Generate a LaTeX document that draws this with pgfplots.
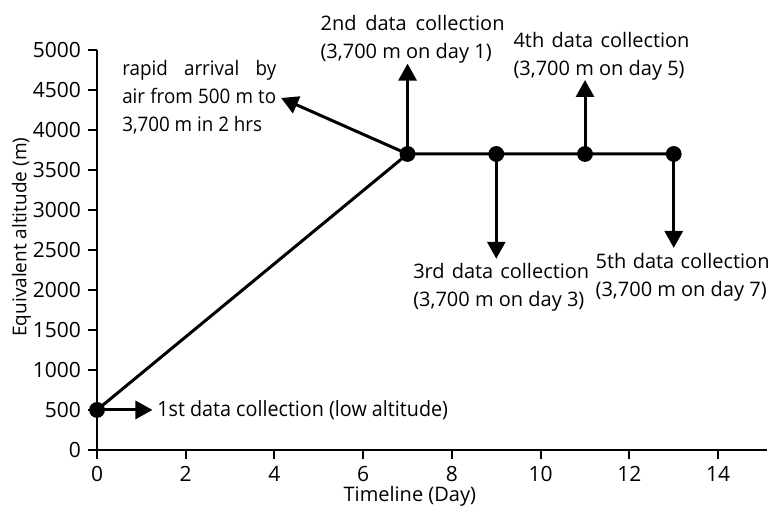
\documentclass[border=0pt]{standalone}
\usepackage{fontspec}
\setmainfont{Open Sans}
\newfontfamily\narrowfont{Open Sans}[FakeStretch=0.94]
\usepackage{pgfplots}
\pgfplotsset{compat=1.18}
\usetikzlibrary{arrows.meta}

\tikzset{
  note/.style={font=\fontsize{10}{14}\selectfont, inner sep=0pt, align=left},
}
\pgfplotsset{
  pointer/.style={black, line width=1.5pt, -{Triangle[length=8.5pt, width=9pt]}, forget plot, no marks}
}
\newcommand{\spread}[2]{\makebox[#1][s]{#2}}

\begin{document}
\begin{tikzpicture}
\begin{axis}[
    scale only axis,
    width=335pt, height=200pt,
    xmin=0, xmax=15.1,
    ymin=0, ymax=5000,
    axis lines*=left,
    axis line style={line width=1pt},
    tick align=outside,
    major tick length=4.5pt,
    tick style={black, line width=1pt},
    xtick={0,2,...,14},
    ytick={0,500,...,5000},
    scaled y ticks=false,
    /pgf/number format/assume math mode=true,
    /pgf/number format/set thousands separator={},
    ticklabel style={font=\fontsize{10.5}{12}\selectfont},
    xlabel={Timeline (Day)},
    ylabel={Equivalent altitude (m)},
    every axis x label/.style={at={(axis description cs:0.467,-0.116)}, anchor=center, font=\fontsize{10}{12}\selectfont},
    every axis y label/.style={at={(axis description cs:-0.113,0.532)}, anchor=center, rotate=90, font=\fontsize{9.5}{12}\selectfont},
    clip=false,
]
% altitude profile
\addplot[black, line width=1.5pt, mark=*, mark size=3.2pt] coordinates {
    (0,500) (7,3700) (9,3700) (11,3700) (13,3700)
};
% annotation arrows
\addplot[pointer] coordinates {(0,500) (1.25,500)};
\addplot[pointer] coordinates {(7,3700) (4.15,4400)};
\addplot[pointer] coordinates {(7,3700) (7,4830)};
\addplot[pointer] coordinates {(9,3700) (9,2390)};
\addplot[pointer] coordinates {(11,3700) (11,4625)};
\addplot[pointer] coordinates {(13,3700) (13,2525)};

\node[note, anchor=west, font=\narrowfont\fontsize{10.5}{14}\selectfont] at (axis cs:1.35,500) {1st data collection (low altitude)};
\node[note, anchor=north west, font=\narrowfont\fontsize{10}{14}\selectfont] at (axis cs:0.56,4870)
  {\spread{77pt}{rapid arrival by}\\\spread{77pt}{air from 500 m to}\\3,700 m in 2 hrs};
\node[note, anchor=north west] at (axis cs:5.03,5437) {\spread{92pt}{2nd data collection}\\(3,700 m on day 1)};
\node[note, anchor=north west] at (axis cs:9.38,5225) {\spread{88pt}{4th data collection}\\(3,700 m on day 5)};
\node[note, anchor=north west] at (axis cs:7.12,2337) {\spread{88pt}{3rd data collection}\\(3,700 m on day 3)};
\node[note, anchor=north west] at (axis cs:11.23,2462) {\spread{87pt}{5th data collection}\\(3,700 m on day 7)};

\coordinate (bbSW) at (axis cs:-2.187,-725);
\coordinate (bbNE) at (axis cs:15.26,5625);
\end{axis}
\pgfresetboundingbox
\useasboundingbox (bbSW) rectangle (bbNE);
\end{tikzpicture}
\end{document}
